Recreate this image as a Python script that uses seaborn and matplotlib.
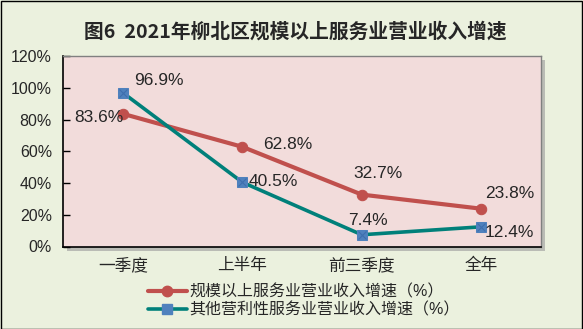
import matplotlib
matplotlib.use("Agg")
import matplotlib.pyplot as plt
from matplotlib.patches import Rectangle
from matplotlib.lines import Line2D
import seaborn as sns
import pandas as pd

categories = ["一季度", "上半年", "前三季度", "全年"]
series1_name = "规模以上服务业营业收入增速（%）"
series2_name = "其他营利性服务业营业收入增速（%）"
series1 = [83.6, 62.8, 32.7, 23.8]
series2 = [96.9, 40.5, 7.4, 12.4]
yticks = [0, 20, 40, 60, 80, 100, 120]
title = "图6  2021年柳北区规模以上服务业营业收入增速"

sns.set_theme(style="white")
plt.rcParams['font.family'] = ['Liberation Sans', 'Noto Sans CJK SC', 'DejaVu Sans']

W, H = 583, 329
fig = plt.figure(figsize=(W / 100, H / 100), dpi=100)
fig.patch.set_facecolor("#EBF1DE")

L, R, T, B = 63, 541, 56, 246.5
ax = fig.add_axes([L / W, 1 - B / H, (R - L) / W, (B - T) / H])
ax.set_facecolor("#F2DCDB")

# shadow
sh = Rectangle(((L + 4) / W, 1 - (B + 4) / H), (R - L) / W, (B - T) / H,
               transform=fig.transFigure, facecolor="#9a9a9a", edgecolor="none",
               alpha=0.6, zorder=-1)
fig.patches.append(sh)
# figure border
fig.patches.append(Rectangle((0.5 / W, 0.5 / H), 1 - 1.5 / W, 1 - 1.5 / H,
                             transform=fig.transFigure, facecolor="none",
                             edgecolor="black", linewidth=1.0, zorder=10))

df1 = pd.DataFrame({"cat": categories, "val": series1})
df2 = pd.DataFrame({"cat": categories, "val": series2})

red = "#C0504D"
teal = "#00807A"
blue = "#4F81BD"

sns.lineplot(data=df1, x="cat", y="val", ax=ax, color=red, linewidth=3.0,
             marker="o", markersize=7.5, markeredgecolor=red, markerfacecolor=red,
             sort=False, zorder=3)
sns.lineplot(data=df2, x="cat", y="val", ax=ax, color=teal, linewidth=2.6,
             marker="s", markersize=7, markeredgecolor=blue, markerfacecolor=blue,
             sort=False, zorder=4)
ax.plot(range(len(categories)), series2, linestyle="none", marker="x",
        markersize=6, markeredgecolor="#3f6fae", markeredgewidth=0.8, zorder=5)

ax.set_xlim(-0.5, 3.5)
ax.set_ylim(0, 120)
ax.set_yticks(yticks)
ax.set_yticklabels([f"{v}%" for v in yticks], fontsize=11.5)
ax.set_xticks(range(len(categories)))
ax.set_xticklabels(categories, fontsize=12)
ax.set_xticks([0.5, 1.5, 2.5], minor=True)
ax.tick_params(axis="x", which="major", length=0, pad=8)
ax.tick_params(axis="x", which="minor", direction="in", length=5, color="black", width=1)
ax.tick_params(axis="y", direction="in", length=5, color="black", width=1, pad=8, left=True)
ax.set_xlabel("")
ax.set_ylabel("")
for s in ["left", "bottom"]:
    ax.spines[s].set_color("black")
    ax.spines[s].set_linewidth(1.2)
for s in ["top", "right"]:
    ax.spines[s].set_color("#808080")
    ax.spines[s].set_linewidth(1.0)

# data labels (offsets in pixels)
off1 = [(-24, -3.5), (45, 2), (16, 21), (28, 15)]
off2 = [(36, 12), (31, 1), (6, 14), (28, -6)]
for i, v in enumerate(series1):
    ax.annotate(f"{v}%", (i, v), xytext=off1[i], textcoords="offset pixels",
                ha="center", va="center", fontsize=12.5, zorder=6)
for i, v in enumerate(series2):
    ax.annotate(f"{v}%", (i, v), xytext=off2[i], textcoords="offset pixels",
                ha="center", va="center", fontsize=12.5, zorder=6)

ax.get_legend() and ax.get_legend().remove()
h1 = Line2D([], [], color=red, linewidth=3.0, marker="o", markersize=7.5,
            markerfacecolor=red, markeredgecolor=red)
h2 = Line2D([], [], color=teal, linewidth=2.6, marker="s", markersize=7,
            markerfacecolor=blue, markeredgecolor=blue)
fig.legend([h1, h2], [series1_name, series2_name], loc="upper left",
           bbox_to_anchor=(145 / W, 1 - 281 / H), frameon=False, fontsize=11.5,
           handlelength=2.4, handletextpad=0.15, labelspacing=0.2,
           borderaxespad=0, borderpad=0.2)

fig.text(295 / W, 1 - 32 / H, title, ha="center", va="center", fontsize=14.2,
         fontweight="bold", family=['Noto Sans CJK SC', 'DejaVu Sans'])

fig.savefig("out.png", dpi=100, facecolor=fig.get_facecolor())
